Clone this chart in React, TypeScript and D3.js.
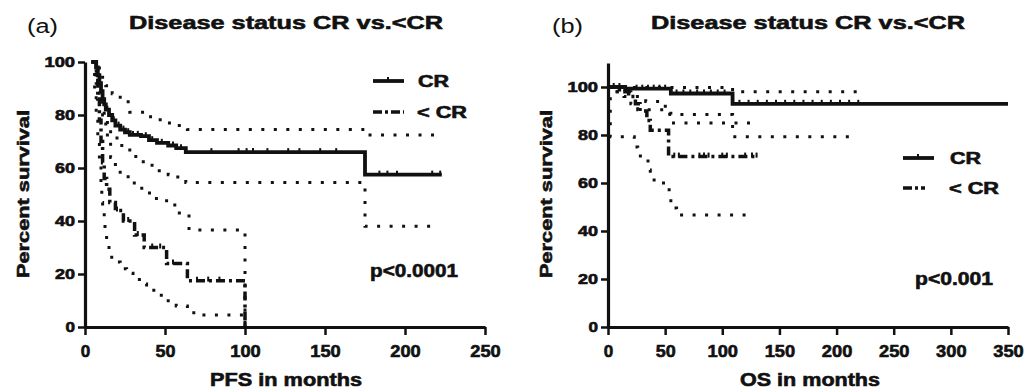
import { useEffect, useRef } from "react";
import * as d3 from "d3";

type Pt = [number, number];

const W = 1025;
const H = 392;
const FONT = "'Liberation Sans', Arial, Helvetica, sans-serif";

// panel (a) - PFS
const pfsTicksX = [0, 50, 100, 150, 200, 250];
const pfsTicksY = [0, 20, 40, 60, 80, 100];

const pfsCr: Pt[] = [[4,100],[7,98],[8,95],[9,92],[10,89],[11,86],[12,84],[13,82],[15,80],[17,78],[19,76],[22,74.5],[25,73.5],[28,72.5],[35,72],[40,70.5],[45,69.5],[52,68.5],[57,67.5],[63,66],[175,57.5],[223,57.5]];
const pfsCrUpper: Pt[] = [[4,100],[9,96],[11,93],[13,91],[17,88],[22,85],[28,81],[37,79.3],[47,77],[55,76],[64,74.5],[175,72.5],[223,72.5]];
const pfsCrLower: Pt[] = [[4,100],[7,92],[9,86],[11,80],[13,76],[16,72.5],[20,70],[23,67.4],[28,64.3],[33,62.4],[38,61],[45,59],[52,57.5],[58,56],[63,54.5],[175,38],[217,38]];
const pfsLess: Pt[] = [[6,100],[7,94],[8,86],[9,78],[10,70],[11,62],[12,56],[13.5,52],[15.5,47],[19,44],[24,40],[31,34.7],[37,30],[51,24],[64,17.5],[100,0]];
const pfsLessUpper: Pt[] = [[4,100],[6,97],[8,92],[10,85],[12,78],[14,70],[16,64],[19,59],[22,56.7],[28,54.3],[33,52.4],[38,50.6],[42,48.5],[51,46],[58,43],[65,36.6],[100,0]];
const pfsLessLower: Pt[] = [[5,100],[6,90],[7,80],[8,70],[9,60],[10,52],[10.5,47],[11,43],[12,38.5],[12.5,35.4],[13.5,31],[15,28],[16.7,24.5],[22,22],[26,20.3],[30,18.5],[34,16.2],[38.5,14.7],[43,12],[52,9],[57,7.9],[64,7],[68,4.5],[100,0]];
const pfsCrCensor = [14,18,21,24,27,30,33,38,42,48,55,60,79,96,101,105,114,127,134,147,157,184,189,195,217,222];
const pfsLessCensor = [20,27,33,42,47,55,70,77,84];

// panel (b) - OS
const osTicksX = [0, 50, 100, 150, 200, 250, 300, 350];
const osTicksY = [0, 20, 40, 60, 80, 100];

const osCr: Pt[] = [[0,100],[15,99.3],[55,97.3],[109,93],[350,93]];
const osCrUpper: Pt[] = [[0,99.8],[109,98],[218,98]];
const osCrLower: Pt[] = [[0,100],[8,98],[14,96],[20,93],[26,90.5],[55,88.5],[109,79.3],[218,79.3]];
const osLess: Pt[] = [[0,100],[10,98],[18,96],[24,93],[28,90],[34,86],[37,82],[53,71],[131,71]];
const osLessUpper: Pt[] = [[0,100],[8,98],[20,96],[33,94],[45,92],[54,85],[130,85]];
const osLessLower: Pt[] = [[0,100],[2,79.3],[23,75],[26,71.2],[35,65.4],[37,61.3],[45,60],[52.5,58.7],[53.5,54],[55,49.6],[60,46.7],[122,46.7]];
const osCrCensor = [5,10,25,30,35,40,45,50,60,66,72,78,84,90,96,102,115,123,131,139,147,155,163,171,179,187,195,203,211,219];
const osLessCensor = [58,62,80,84,88,100,104,120,126,130];

function stepValue(pts: Pt[], t: number) {
  let v = pts[0][1];
  for (const p of pts) if (p[0] <= t) v = p[1];
  return v;
}

function addText(g: any, x: number, y: number, s: string, size: number, weight: string, anchor: string, len?: number) {
  const t = g.append("text")
    .attr("x", x).attr("y", y)
    .attr("font-family", FONT)
    .attr("font-size", size)
    .attr("font-weight", weight)
    .attr("text-anchor", anchor)
    .attr("fill", "#111")
    .text(s);
  if (weight === "bold") t.attr("stroke", "#111").attr("stroke-width", 0.6);
  if (len) t.attr("textLength", len).attr("lengthAdjust", "spacingAndGlyphs");
  return t;
}

function drawPanel(svg: any, cfg: any) {
  const x = d3.scaleLinear().domain([0, cfg.xMax]).range([cfg.left, cfg.right]);
  const y = d3.scaleLinear().domain([0, cfg.yMax]).range([327, cfg.top]);
  const g = svg.append("g");

  const line = d3.line<Pt>().x(d => x(d[0])).y(d => y(d[1])).curve(d3.curveStepAfter);

  const dotted = "3,9.5";
  const dashDot = "9,4,3,4";

  [cfg.crUpper, cfg.crLower, cfg.lessUpper, cfg.lessLower].forEach((s: Pt[]) => {
    g.append("path").attr("d", line(s)).attr("fill", "none")
      .attr("stroke", "#111").attr("stroke-width", 3).attr("stroke-dasharray", dotted);
  });
  g.append("path").attr("d", line(cfg.less)).attr("fill", "none")
    .attr("stroke", "#111").attr("stroke-width", 3.5).attr("stroke-dasharray", dashDot);
  g.append("path").attr("d", line(cfg.cr)).attr("fill", "none")
    .attr("stroke", "#111").attr("stroke-width", 3.8);

  const censor = (times: number[], pts: Pt[]) => {
    g.selectAll(null).data(times).enter().append("line")
      .attr("x1", (t: number) => x(t)).attr("x2", (t: number) => x(t))
      .attr("y1", (t: number) => y(stepValue(pts, t)) - 4)
      .attr("y2", (t: number) => y(stepValue(pts, t)) + 1)
      .attr("stroke", "#111").attr("stroke-width", 2);
  };
  censor(cfg.crCensor, cfg.cr);
  censor(cfg.lessCensor, cfg.less);

  // axes
  const ax = g.append("g").attr("transform", "translate(0,327)")
    .call(d3.axisBottom(x).tickValues(cfg.ticksX).tickSize(8).tickSizeOuter(0).tickPadding(10).tickFormat(d3.format("d")));
  const ay = g.append("g").attr("transform", `translate(${cfg.left},0)`)
    .call(d3.axisLeft(y).tickValues(cfg.ticksY).tickSize(7).tickSizeOuter(0).tickPadding(3).tickFormat(d3.format("d")));
  [ax, ay].forEach(a => {
    a.select(".domain").attr("stroke", "#111").attr("stroke-width", 3.2);
    a.selectAll(".tick line").attr("stroke", "#111").attr("stroke-width", 2.5);
    a.selectAll("text").attr("font-family", FONT).attr("font-weight", "bold").attr("fill", "#111")
      .attr("stroke", "#111").attr("stroke-width", 0.6)
      .attr("lengthAdjust", "spacingAndGlyphs")
      .attr("textLength", function (this: any) { return (this.textContent.length * 10.5 - 1); });
  });
  ax.selectAll("text").attr("font-size", 17);
  ay.selectAll("text").attr("font-size", 14);

  // titles & labels
  addText(svg, cfg.tagX, 33, cfg.tag, 20, "normal", "start", 31);
  addText(svg, cfg.titleX, 29, "Disease status CR vs.<CR", 19, "bold", "middle", 314);
  addText(svg, cfg.xLabelX, 386, cfg.xLabel, 18, "bold", "middle", cfg.xLabelLen);
  addText(svg, 0, 0, "Percent survival", 17, "bold", "middle", 168)
    .attr("transform", `translate(${cfg.yLabelX},194) rotate(-90)`);

  // legend
  const lg = cfg.legend;
  svg.append("line").attr("x1", lg.x).attr("x2", lg.x + 31).attr("y1", lg.y1).attr("y2", lg.y1)
    .attr("stroke", "#111").attr("stroke-width", 3.8);
  svg.append("line").attr("x1", lg.x + 15).attr("x2", lg.x + 15).attr("y1", lg.y1 - 4).attr("y2", lg.y1)
    .attr("stroke", "#111").attr("stroke-width", 2);
  svg.append("line").attr("x1", lg.x).attr("x2", lg.x + lg.w2).attr("y1", lg.y2).attr("y2", lg.y2)
    .attr("stroke", "#111").attr("stroke-width", 3.5).attr("stroke-dasharray", "9,3,3,3");
  addText(svg, lg.tx, lg.y1 + 6, "CR", 16, "bold", "start", 31);
  addText(svg, lg.tx - 1, lg.y2 + 6, "< CR", 16, "bold", "start", 50);

  addText(svg, cfg.pX, cfg.pY, cfg.p, 18, "bold", "start", cfg.pLen);
}

export default function App() {
  const ref = useRef<SVGSVGElement>(null);

  useEffect(() => {
    const svg = d3.select(ref.current);
    svg.selectAll("*").remove();
    svg.append("rect").attr("width", W).attr("height", H).attr("fill", "#fff");

    drawPanel(svg, {
      left: 85, right: 485, xMax: 250, top: 62, yMax: 100,
      ticksX: pfsTicksX, ticksY: pfsTicksY,
      cr: pfsCr, crUpper: pfsCrUpper, crLower: pfsCrLower,
      less: pfsLess, lessUpper: pfsLessUpper, lessLower: pfsLessLower,
      crCensor: pfsCrCensor, lessCensor: pfsLessCensor,
      tag: "(a)", tagX: 27, titleX: 286,
      xLabel: "PFS in months", xLabelX: 286, xLabelLen: 152, yLabelX: 29,
      legend: { x: 373, y1: 81, y2: 112, w2: 31, tx: 418 },
      p: "p<0.0001", pX: 370, pY: 277, pLen: 88,
    });

    drawPanel(svg, {
      left: 608, right: 1008, xMax: 350, top: 63, yMax: 110,
      ticksX: osTicksX, ticksY: osTicksY,
      cr: osCr, crUpper: osCrUpper, crLower: osCrLower,
      less: osLess, lessUpper: osLessUpper, lessLower: osLessLower,
      crCensor: osCrCensor, lessCensor: osLessCensor,
      tag: "(b)", tagX: 552, titleX: 808,
      xLabel: "OS in months", xLabelX: 810, xLabelLen: 140, yLabelX: 552,
      legend: { x: 903, y1: 158, y2: 188, w2: 22, tx: 950 },
      p: "p<0.001", pX: 915, pY: 285, pLen: 78,
    });
  }, []);

  return (
    <svg ref={ref} width={W} height={H}
      style={{ position: "absolute", left: 0, top: 0, display: "block" }} />
  );
}
